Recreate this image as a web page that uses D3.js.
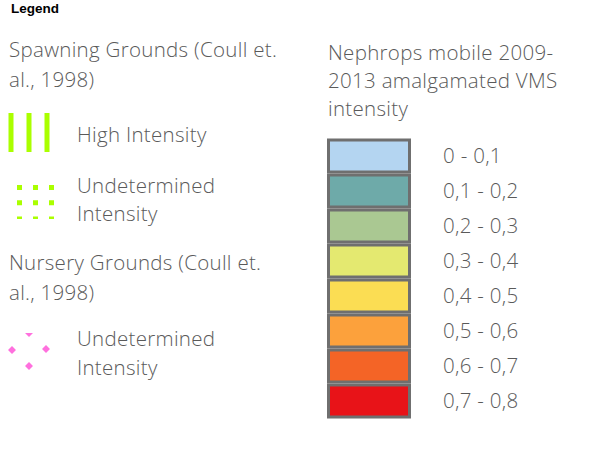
<!DOCTYPE html>
<html>
<head>
<meta charset="utf-8">
<title>Legend</title>
<script src="https://cdn.jsdelivr.net/npm/d3@7"></script>
<style>
  body { margin: 0; background: #fff; }
  text { font-family: "Open Sans", sans-serif; fill: #5a5a5a; }
  .title { font-family: "Liberation Sans", Arial, sans-serif; font-weight: bold; fill: #000; }
</style>
</head>
<body>
<script>
// VMS intensity classes
var classes = ["0 - 0,1", "0,1 - 0,2", "0,2 - 0,3", "0,3 - 0,4",
               "0,4 - 0,5", "0,5 - 0,6", "0,6 - 0,7", "0,7 - 0,8"];
var classColors = ["#b4d5f1", "#6eaaa9", "#aac892", "#e4e970",
                   "#fbdd53", "#fca13c", "#f46426", "#e81318"];

var vmsTitle = ["Nephrops mobile 2009-", "2013 amalgamated VMS", "intensity"];
var spawnTitle = ["Spawning Grounds (Coull et.", "al., 1998)"];
var nurseryTitle = ["Nursery Grounds (Coull et.", "al., 1998)"];
var highLabel = ["High Intensity"];
var undetLabel = ["Undetermined", "Intensity"];

var W = 605, H = 473;
var fs = 20.5;
var svg = d3.select("body").append("svg")
  .attr("width", W).attr("height", H);

svg.append("text").attr("class", "title")
  .attr("x", 11).attr("y", 13)
  .style("font-size", "13.5px")
  .text("Legend");

function lines(sel, arr, x, y0, lh) {
  sel.selectAll(null).data(arr).enter().append("text")
    .attr("x", x)
    .attr("y", function(d, i) { return y0 + i * lh; })
    .style("font-size", fs + "px")
    .style("font-weight", 300)
    .style("letter-spacing", "0.3px")
    .text(function(d) { return d; });
}

var g = svg.append("g");
lines(g, spawnTitle, 9, 57, 30);
lines(g, highLabel, 77, 142, 28);
lines(g, undetLabel, 77, 193, 28);
lines(g, nurseryTitle, 9, 270, 30);
lines(g, undetLabel, 77, 346, 29);
lines(g, vmsTitle, 328, 60, 28);

// spawning - high intensity: vertical lime bars
var lime = "#aaff00";
var barX = d3.scalePoint().domain([0, 1, 2]).range([11, 47]);
svg.selectAll(".hbar").data([0, 1, 2]).enter().append("rect")
  .attr("class", "hbar")
  .attr("x", function(d) { return barX(d) - 2.5; })
  .attr("y", 113).attr("width", 5).attr("height", 39)
  .attr("fill", lime);

// spawning - undetermined: dotted grid
var dotX = d3.scalePoint().domain([0, 1, 2]).range([19.5, 51.5]);
var dotY = d3.scalePoint().domain([0, 1, 2]).range([187.5, 218]);
var dots = [];
[0, 1, 2].forEach(function(r) { [0, 1, 2].forEach(function(c) { dots.push({r: r, c: c}); }); });
svg.selectAll(".dot").data(dots).enter().append("rect")
  .attr("class", "dot")
  .attr("x", function(d) { return dotX(d.c) - 2.5; })
  .attr("y", function(d) { return dotY(d.r) - (d.r === 2 ? 1.5 : 2.5); })
  .attr("width", 5)
  .attr("height", function(d) { return d.r === 2 ? 2.5 : 5; })
  .attr("fill", lime);

// nursery - undetermined: pink diamonds
var diamonds = [[29, 333], [12, 350], [46, 349], [29, 366]];
svg.append("clipPath").attr("id", "dclip")
  .append("rect").attr("x", 0).attr("y", 333).attr("width", 60).attr("height", 50);
svg.append("g").attr("clip-path", "url(#dclip)")
  .selectAll("path").data(diamonds).enter().append("path")
  .attr("d", d3.symbol().type(d3.symbolDiamond2).size(40))
  .attr("transform", function(d) { return "translate(" + d[0] + "," + d[1] + ")"; })
  .attr("fill", "#ff70de");

// VMS swatches
var y = d3.scaleBand().domain(classes).range([138.5, 418.5]);
var sw = svg.append("g");
sw.selectAll("rect").data(classes).enter().append("rect")
  .attr("x", 328.5).attr("y", function(d) { return y(d) + 1.5; })
  .attr("width", 81).attr("height", y.bandwidth() - 3)
  .attr("fill", function(d, i) { return classColors[i]; })
  .attr("stroke", "#6f6f6f").attr("stroke-width", 3);
sw.selectAll("text").data(classes).enter().append("text")
  .attr("x", 443)
  .attr("y", function(d) { return y(d) + y.bandwidth() / 2 + 7; })
  .style("font-size", fs + "px").style("font-weight", 300)
  .style("letter-spacing", "0.3px")
  .text(function(d) { return d; });
</script>
</body>
</html>
